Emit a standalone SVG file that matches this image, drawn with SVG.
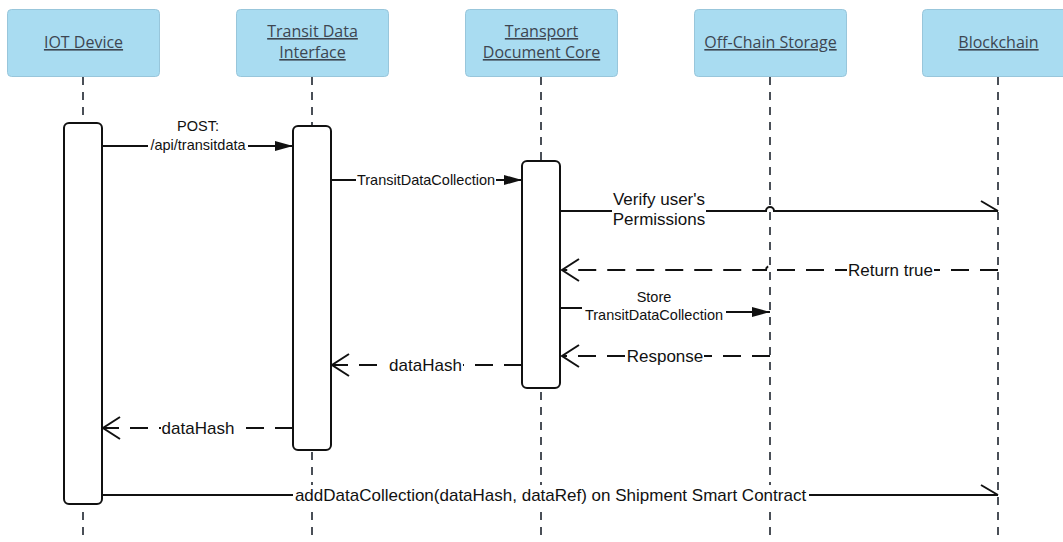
<svg xmlns="http://www.w3.org/2000/svg" width="1063" height="542" viewBox="0 0 1063 542">
<style>
.box{fill:#a9dcf1;stroke:#98c6db;stroke-width:1}
.hdr{font-family:"Open Sans","Noto Sans",sans-serif;font-size:16px;fill:#3d4651;text-anchor:middle;text-decoration:underline}
.life{stroke:#4a4f57;stroke-width:2;stroke-dasharray:8 7;fill:none}
.act{fill:#fff;stroke:#111;stroke-width:2}
.msg{stroke:#111;stroke-width:2;fill:none}
.ret{stroke:#111;stroke-width:2;fill:none;stroke-dasharray:18 11}
.lbl{font-family:"Liberation Sans",Arial,sans-serif;font-size:17px;fill:#111;text-anchor:middle}
.sm{font-size:14.5px}
.bg{fill:#fff}
</style>
<defs>
<marker id="filled" markerUnits="userSpaceOnUse" viewBox="0 0 18 10" refX="18" refY="5" markerWidth="18" markerHeight="10" orient="auto">
<path d="M0,0 L18,5 L0,10 z" fill="#111"/>
</marker>
<marker id="open" markerUnits="userSpaceOnUse" viewBox="-2 -2 22 26" refX="17" refY="11" markerWidth="22" markerHeight="26" orient="auto">
<path d="M0,0 L17,11 L0,22" fill="none" stroke="#111" stroke-width="2" stroke-dasharray="none"/>
</marker>
<marker id="half" markerUnits="userSpaceOnUse" viewBox="-2 -2 22 14" refX="17" refY="10" markerWidth="22" markerHeight="14" orient="auto">
<path d="M0,0 L17,10" fill="none" stroke="#111" stroke-width="2" stroke-dasharray="none"/>
</marker>
</defs>
<rect width="1063" height="542" fill="#fff"/>

<g id="iot-device">
<line class="life" x1="83" y1="77" x2="83" y2="542"/>
<rect class="box" x="7.5" y="9.5" width="152" height="67" rx="4"/>
<text class="hdr" x="83.5" y="48">IOT Device</text>
<rect class="act" x="64" y="123" width="38" height="381" rx="5"/>
</g>
<g id="transit-data-interface">
<line class="life" x1="312" y1="77" x2="312" y2="542"/>
<rect class="box" x="236.5" y="9.5" width="152" height="67" rx="4"/>
<text class="hdr" x="312.5" y="37">Transit Data</text>
<text class="hdr" x="312.5" y="58">Interface</text>
<rect class="act" x="293" y="126" width="38" height="324" rx="5"/>
</g>
<g id="transport-document-core">
<line class="life" x1="541" y1="77" x2="541" y2="542"/>
<rect class="box" x="465.5" y="9.5" width="152" height="67" rx="4"/>
<text class="hdr" x="541.5" y="37">Transport</text>
<text class="hdr" x="541.5" y="58">Document Core</text>
<rect class="act" x="522" y="161" width="38" height="227" rx="5"/>
</g>
<g id="off-chain-storage">
<line class="life" x1="770" y1="77" x2="770" y2="542"/>
<rect class="box" x="694.5" y="9.5" width="152" height="67" rx="4"/>
<text class="hdr" x="770.5" y="48">Off-Chain Storage</text>
</g>
<g id="blockchain">
<line class="life" x1="998" y1="77" x2="998" y2="542"/>
<rect class="box" x="922.5" y="9.5" width="152" height="67" rx="4"/>
<text class="hdr" x="998.5" y="48">Blockchain</text>
</g>

<g id="connectors">
<path class="msg" d="M102,146 H293" marker-end="url(#filled)"/>
<rect class="bg" x="148" y="138" width="100" height="14"/>
<text class="lbl sm" x="198" y="131">POST:</text>
<text class="lbl sm" x="198" y="150">/api/transitdata</text>

<path class="msg" d="M331,180 H522" marker-end="url(#filled)"/>
<rect class="bg" x="356" y="172" width="140" height="16"/>
<text class="lbl sm" x="426" y="185">TransitDataCollection</text>

<path class="msg" d="M560,211 H766 A4,4 0 0 1 774,211 H998" marker-end="url(#half)"/>
<rect class="bg" x="612" y="188" width="94" height="42"/>
<text class="lbl" x="659" y="205">Verify user's</text>
<text class="lbl" x="659" y="225">Permissions</text>

<path class="ret" d="M998,270 H774 A4,4 0 0 0 766,270 H562" marker-end="url(#open)"/>
<rect class="bg" x="847" y="260" width="87" height="20"/>
<text class="lbl" x="890.5" y="276">Return true</text>

<path class="msg" d="M560,308 H654 V312 H770" marker-end="url(#filled)"/>
<rect class="bg" x="582" y="287" width="144" height="36"/>
<text class="lbl sm" x="654" y="302">Store</text>
<text class="lbl sm" x="654" y="319.5">TransitDataCollection</text>

<path class="ret" d="M770,356 H562" marker-end="url(#open)"/>
<rect class="bg" x="626" y="346" width="78" height="20"/>
<text class="lbl" x="665" y="362">Response</text>

<path class="ret" d="M522,365 H332" marker-end="url(#open)"/>
<rect class="bg" x="388" y="355" width="75" height="20"/>
<text class="lbl" x="425.5" y="371">dataHash</text>

<path class="ret" d="M293,428 H103" marker-end="url(#open)"/>
<rect class="bg" x="161" y="418" width="74" height="20"/>
<text class="lbl" x="198" y="434">dataHash</text>

<path class="msg" d="M102,495 H998" marker-end="url(#half)"/>
<rect class="bg" x="293" y="485" width="516" height="20"/>
<text class="lbl" x="550.5" y="501">addDataCollection(dataHash, dataRef) on Shipment Smart Contract</text>
</g>
</svg>
